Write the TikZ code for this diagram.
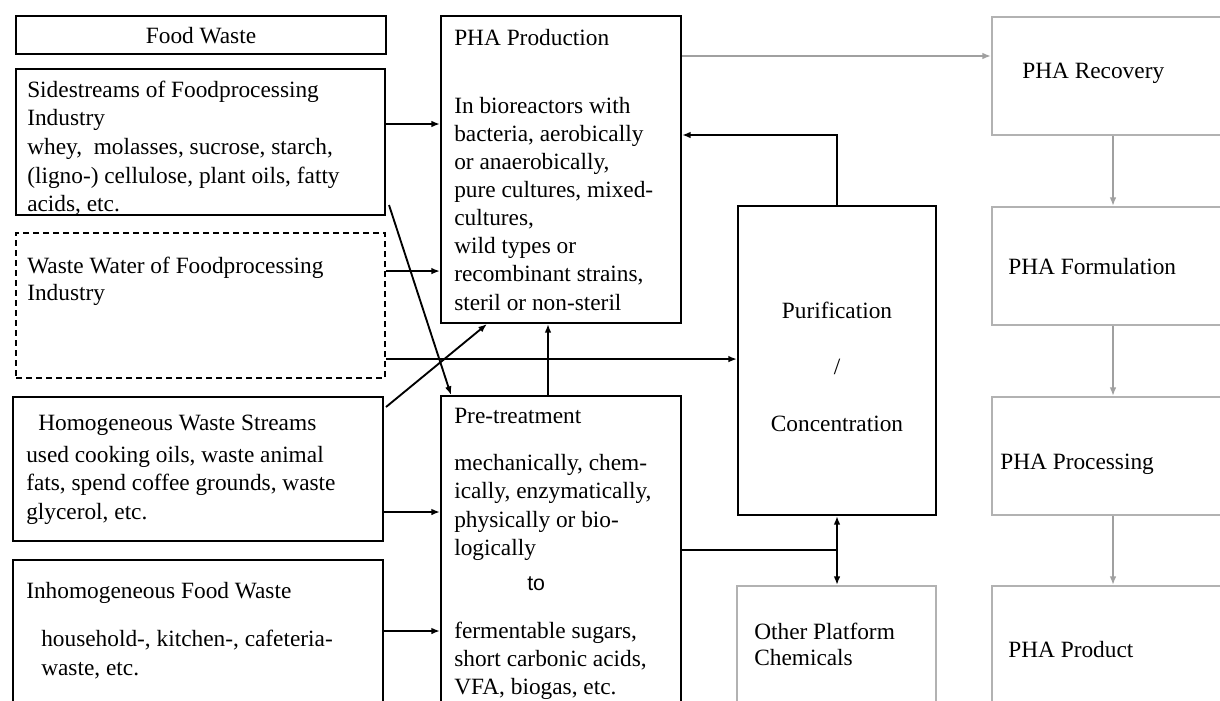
\documentclass[tikz,border=0pt]{standalone}
\usepackage{fontspec}
\setmainfont{Liberation Serif}
\newfontfamily\tosans{Liberation Sans}
\usetikzlibrary{arrows.meta,calc,fit}
\definecolor{lgray}{RGB}{178,178,178}
\definecolor{agray}{RGB}{160,160,160}
\newcommand\fsz{\fontsize{17.5pt}{20pt}\selectfont}
\begin{document}
\begin{tikzpicture}[x=0.75pt,y=-0.75pt,
  bbox/.style={draw=black,line width=1.5pt,inner sep=0pt},
  gbox/.style={draw=lgray,line width=1.5pt,inner sep=0pt},
  dbox/.style={draw=black,line width=1.4pt,inner sep=0pt,dash pattern=on 4.5pt off 3pt},
  txt/.style={font=\fsz,inner sep=0pt,anchor=base west},
  ctxt/.style={font=\fsz,inner sep=0pt,anchor=base},
  arr/.style={line width=1.4pt,-{Latex[length=6.5pt,width=5pt]}},
  darr/.style={line width=1.4pt,{Latex[length=6.5pt,width=5pt]}-{Latex[length=6.5pt,width=5pt]}},
  garr/.style={draw=agray,line width=1.4pt,-{Latex[length=6.5pt,width=5pt]}},
  conn/.style={line width=1.4pt}
]
\useasboundingbox (0,0) rectangle (1220,700);
\fill[white] (0,0) rectangle (1220,700);
\clip (0,0) rectangle (1220,700);

% boxes
\node[bbox, fit={(16,16) (386,54)}] (fw) {};
\node[bbox, fit={(16,69) (385,215)}] (side) {};
\node[dbox, fit={(16,233) (385,378)}] (ww) {};
\node[bbox, fit={(13,397) (383,541)}] (homo) {};
\node[bbox, fit={(13,560) (383,730)}] (inh) {};
\node[bbox, fit={(441,16) (681,323)}] (pha) {};
\node[bbox, fit={(441,396) (681,730)}] (pre) {};
\node[bbox, fit={(738,206) (936,515)}] (pur) {};
\node[gbox, fit={(737,586) (936,730)}] (opc) {};
\node[gbox, fit={(992,17) (1234,135)}] (rec) {};
\node[gbox, fit={(992,207) (1234,325)}] (form) {};
\node[gbox, fit={(992,397) (1234,515)}] (proc) {};
\node[gbox, fit={(992,586) (1234,730)}] (prod) {};

% texts
\node[ctxt] (fwt) at (201,43) {Food Waste};

\node[txt] (s1) at (27,97) {Sidestreams of Foodprocessing};
\node[txt] (s2) at (27,125.5) {Industry};
\node[txt] (s3) at (27,154) {whey,\ \ molasses, sucrose, starch,};
\node[txt] (s4) at (27,183) {(ligno-) cellulose, plant oils, fatty};
\node[txt] (s5) at (27,211.5) {acids, etc.};

\node[txt] (w1) at (27,273) {Waste Water of Foodprocessing};
\node[txt] (w2) at (27,300.5) {Industry};

\node[txt] (h1) at (38,430) {Homogeneous Waste Streams};
\node[txt] (h2) at (26,462) {used cooking oils, waste animal};
\node[txt] (h3) at (26,490.5) {fats, spend coffee grounds, waste};
\node[txt] (h4) at (26,519) {glycerol, etc.};

\node[txt] (i1) at (26,598) {Inhomogeneous Food Waste};
\node[txt] (i2) at (41,646.5) {household-, kitchen-, cafeteria-};
\node[txt] (i3) at (41,675) {waste, etc.};

\node[txt] (p0) at (454,45) {PHA Production};
\node[txt] (p1) at (454,113) {In bioreactors with};
\node[txt] (p2) at (454,141.1) {bacteria, aerobically};
\node[txt] (p3) at (454,169.3) {or anaerobically,};
\node[txt] (p4) at (454,197.4) {pure cultures, mixed-};
\node[txt] (p5) at (454,225.6) {cultures,};
\node[txt] (p6) at (454,253.7) {wild types or};
\node[txt] (p7) at (454,281.9) {recombinant strains,};
\node[txt] (p8) at (454,310) {steril or non-steril};

\node[txt] (r0) at (454,423) {Pre-treatment};
\node[txt] (r1) at (454,470) {mechanically, chem-};
\node[txt] (r2) at (454,498.5) {ically, enzymatically,};
\node[txt] (r3) at (454,527) {physically or bio-};
\node[txt] (r4) at (454,555) {logically};
\node[inner sep=0pt,anchor=base west,font=\tosans\fontsize{16pt}{19pt}\selectfont] (rto) at (527,590) {to};
\node[txt] (r5) at (454,638) {fermentable sugars,};
\node[txt] (r6) at (454,666.5) {short carbonic acids,};
\node[txt] (r7) at (454,694) {VFA, biogas, etc.};

\node[ctxt] (u1) at (837,318) {Purification};
\node[ctxt] (u2) at (837,374) {/};
\node[ctxt] (u3) at (837,431) {Concentration};

\node[txt] (o1) at (754,639) {Other Platform};
\node[txt] (o2) at (754,665.5) {Chemicals};

\node[txt] (k1) at (1022,78) {PHA Recovery};
\node[txt] (k2) at (1008,274) {PHA Formulation};
\node[txt] (k3) at (1000,469) {PHA Processing};
\node[txt] (k4) at (1008,657) {PHA Product};

% connectors
\draw[arr] ($(side.north east)+(0,56)$) coordinate (c1) -- (c1 -| pha.west);
\draw[arr] ($(ww.north east)+(0,39)$) coordinate (c2) -- (c2 -| pha.west);
\draw[arr] ($(ww.north east)+(0,127)$) coordinate (c3) -- (c3 -| pur.west);
\draw[arr] ($(side.south east)+(3,-11)$) -- ($(pre.north west)+(11,0)$);
\draw[arr] ($(homo.north east)+(2,11)$) -- ($(pha.south west)+(47,0)$);
\draw[arr] ($(pre.north west)+(108,0)$) -- ($(pha.south west)+(108,0)$);
\draw[arr] ($(homo.north east)+(0,116)$) coordinate (c4) -- (c4 -| pre.west);
\draw[arr] ($(inh.north east)+(0,72)$) coordinate (c5) -- (c5 -| pre.west);
\draw[arr] (pur.north) |- ($(pha.north east)+(0,120)$);
\draw[conn] ($(pre.north east)+(0,155)$) coordinate (c6) -- (c6 -| pur.south);
\draw[darr] (pur.south) -- (pur.south |- opc.north);
\draw[garr] ($(pha.north east)+(0,41)$) coordinate (c7) -- (c7 -| rec.west);
\draw[garr] (rec.south) -- (form.north);
\draw[garr] (form.south) -- (proc.north);
\draw[garr] (proc.south) -- (prod.north);
\end{tikzpicture}
\end{document}
